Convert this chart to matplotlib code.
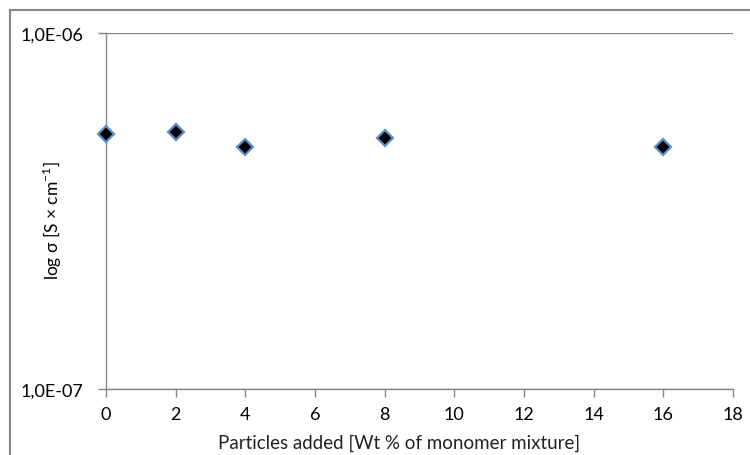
import matplotlib.pyplot as plt
from matplotlib.patches import Rectangle
from matplotlib.ticker import FixedLocator, FuncFormatter, NullLocator

plt.rcParams['font.family'] = ['Lato', 'DejaVu Sans']

# conductivity vs. particle loading
wt_pct = [0, 2, 4, 8, 16]
sigma = [5.2e-7, 5.27e-7, 4.78e-7, 5.07e-7, 4.78e-7]
x_ticks = list(range(0, 19, 2))
y_ticks = [1e-7, 1e-6]

grey = '#868686'

fig = plt.figure(figsize=(7.5, 4.56), dpi=100)
ax = fig.add_axes([106 / 750, 1 - 390 / 456, (733 - 106) / 750, (390 - 34) / 456])

ax.plot(wt_pct, sigma, linestyle='none', marker='D', markersize=8.5,
        markerfacecolor='black', markeredgecolor='#5b8fcf', markeredgewidth=1.6,
        clip_on=False, zorder=5)

ax.set_yscale('log')
ax.set_xlim(0, 18)
ax.set_ylim(1e-7, 1e-6)
ax.xaxis.set_major_locator(FixedLocator(x_ticks))
ax.yaxis.set_major_locator(FixedLocator(y_ticks))
ax.yaxis.set_minor_locator(NullLocator())
ax.yaxis.set_major_formatter(FuncFormatter(lambda v, p: ('%.1E' % v).replace('.', ',')))

ax.grid(axis='y', color=grey, linewidth=1)
for s in ['top', 'right']:
    ax.spines[s].set_visible(False)
for s in ['left', 'bottom']:
    ax.spines[s].set_color(grey)
    ax.spines[s].set_linewidth(1)
ax.tick_params(axis='both', direction='out', color=grey, width=1, length=6,
               labelsize=13, labelcolor='black')
ax.tick_params(axis='x', pad=6)
ax.tick_params(axis='y', pad=10)

fig.text(399 / 750, 1 - 443 / 456, 'Particles added [Wt % of monomer mixture]',
         ha='center', va='center', fontsize=13.5, color='#222222')
fig.text(52 / 750, 1 - 221 / 456, r'log σ [S × cm$^{\mathregular{-1}}$]',
         ha='center', va='center', rotation=90, fontsize=12.5, color='black')

# chart area border
fig.patches.append(Rectangle((10 / 750, -0.1), 1.2, 1.1 - 11 / 456,
                             transform=fig.transFigure, fill=False,
                             edgecolor=grey, linewidth=1.5))

fig.savefig('out.png', dpi=100)
